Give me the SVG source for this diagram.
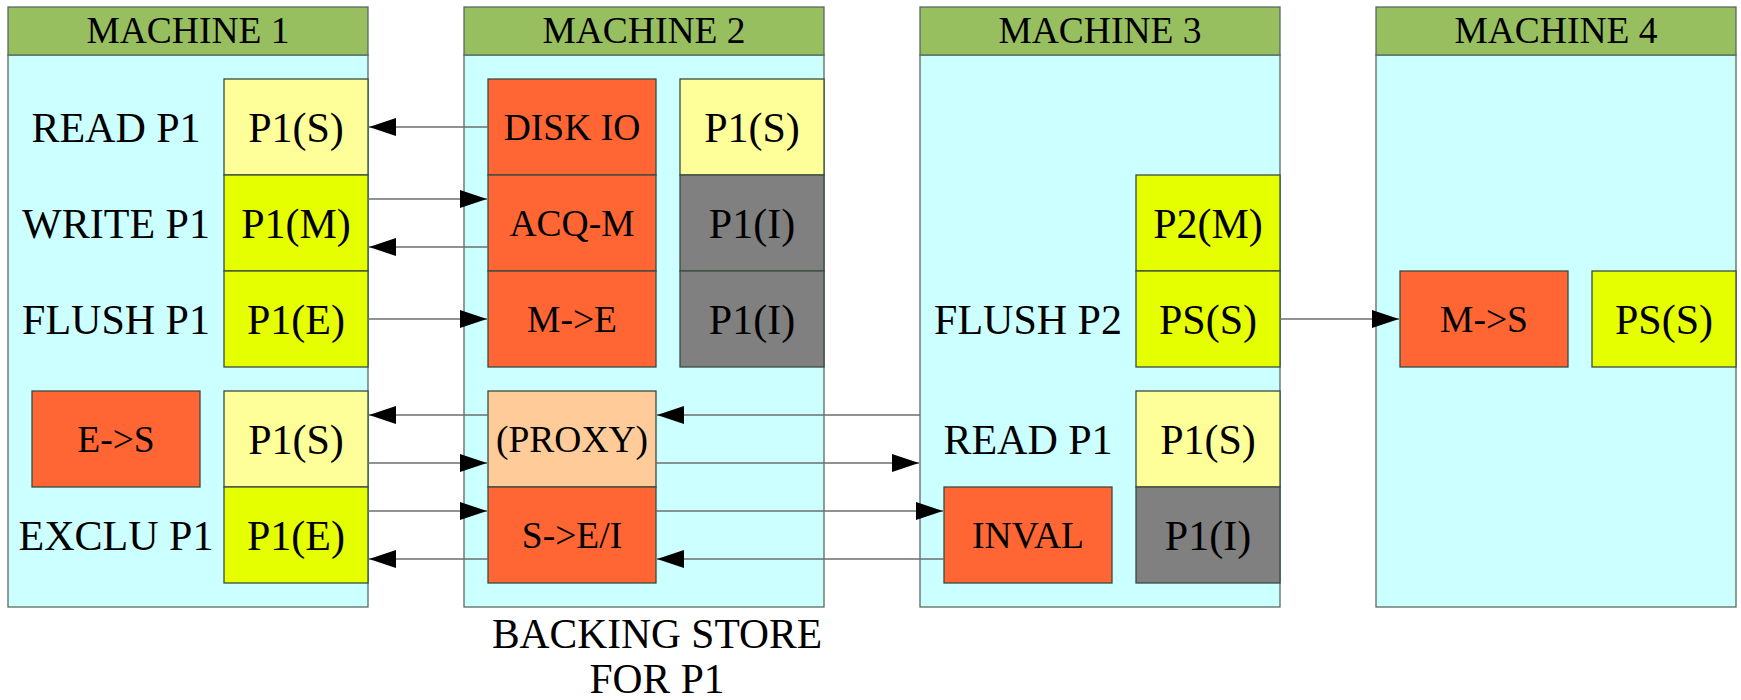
<svg xmlns="http://www.w3.org/2000/svg" width="1741" height="700" viewBox="0 0 1741 700">
<defs>
<marker id="ah" markerUnits="userSpaceOnUse" markerWidth="28" markerHeight="20" refX="27" refY="9" orient="auto">
<path d="M0,0 L27,9 L0,18 Z" fill="#000"/>
</marker>
<style>
.hdr{fill:#97BE5F;stroke:#5a6a60;stroke-width:1.3}
.body{fill:#CCFFFF;stroke:#5a6a60;stroke-width:1.3}
.cell{stroke:#3a4a40;stroke-width:1.3}
.ly{fill:#FFFF99}.yg{fill:#E5FF00}.or{fill:#FF6633}.gr{fill:#808080}.pe{fill:#FFCC99}
text{font-family:"Liberation Serif","Times New Roman",serif;fill:#000;text-anchor:middle}
.ht{font-size:37.5px}.lt{font-size:42px}.ct{font-size:42px}.ot{font-size:37.5px}.bt{font-size:41.5px}
.conn line{stroke:#6e6e6e;stroke-width:1.4;marker-end:url(#ah)}
</style>
</defs>
<rect width="1741" height="700" fill="#fff"/>

<g id="machine1">
<rect class="body" x="8" y="55" width="360" height="552"/>
<rect class="hdr" x="8" y="7" width="360" height="48"/>
<text class="ht" x="188" y="43">MACHINE 1</text>
<text class="lt" x="116" y="142">READ P1</text>
<text class="lt" x="116" y="238">WRITE P1</text>
<text class="lt" x="116" y="334">FLUSH P1</text>
<text class="lt" x="116" y="550">EXCLU P1</text>
</g>
<g id="m1-p1s-a"><rect class="cell ly" x="224" y="79" width="144" height="96"/><text class="ct" x="296" y="142">P1(S)</text></g>
<g id="m1-p1m"><rect class="cell yg" x="224" y="175" width="144" height="96"/><text class="ct" x="296" y="238">P1(M)</text></g>
<g id="m1-p1e-a"><rect class="cell yg" x="224" y="271" width="144" height="96"/><text class="ct" x="296" y="334">P1(E)</text></g>
<g id="m1-es"><rect class="cell or" x="32" y="391" width="168" height="96"/><text class="ot" x="116" y="452">E-&gt;S</text></g>
<g id="m1-p1s-b"><rect class="cell ly" x="224" y="391" width="144" height="96"/><text class="ct" x="296" y="454">P1(S)</text></g>
<g id="m1-p1e-b"><rect class="cell yg" x="224" y="487" width="144" height="96"/><text class="ct" x="296" y="550">P1(E)</text></g>

<g id="machine2">
<rect class="body" x="464" y="55" width="360" height="552"/>
<rect class="hdr" x="464" y="7" width="360" height="48"/>
<text class="ht" x="644" y="43">MACHINE 2</text>
<text class="bt" x="657" y="648">BACKING STORE</text>
<text class="bt" x="657" y="693">FOR P1</text>
</g>
<g id="m2-diskio"><rect class="cell or" x="488" y="79" width="168" height="96"/><text class="ot" x="572" y="140">DISK IO</text></g>
<g id="m2-acqm"><rect class="cell or" x="488" y="175" width="168" height="96"/><text class="ot" x="572" y="236">ACQ-M</text></g>
<g id="m2-me"><rect class="cell or" x="488" y="271" width="168" height="96"/><text class="ot" x="572" y="332">M-&gt;E</text></g>
<g id="m2-proxy"><rect class="cell pe" x="488" y="391" width="168" height="96"/><text class="ot" x="572" y="452">(PROXY)</text></g>
<g id="m2-sei"><rect class="cell or" x="488" y="487" width="168" height="96"/><text class="ot" x="572" y="548">S-&gt;E/I</text></g>
<g id="m2-p1s"><rect class="cell ly" x="680" y="79" width="144" height="96"/><text class="ct" x="752" y="142">P1(S)</text></g>
<g id="m2-p1i-a"><rect class="cell gr" x="680" y="175" width="144" height="96"/><text class="ct" x="752" y="238">P1(I)</text></g>
<g id="m2-p1i-b"><rect class="cell gr" x="680" y="271" width="144" height="96"/><text class="ct" x="752" y="334">P1(I)</text></g>

<g id="machine3">
<rect class="body" x="920" y="55" width="360" height="552"/>
<rect class="hdr" x="920" y="7" width="360" height="48"/>
<text class="ht" x="1100" y="43">MACHINE 3</text>
<text class="lt" x="1028" y="334">FLUSH P2</text>
<text class="lt" x="1028" y="454">READ P1</text>
</g>
<g id="m3-p2m"><rect class="cell yg" x="1136" y="175" width="144" height="96"/><text class="ct" x="1208" y="238">P2(M)</text></g>
<g id="m3-pss"><rect class="cell yg" x="1136" y="271" width="144" height="96"/><text class="ct" x="1208" y="334">PS(S)</text></g>
<g id="m3-p1s"><rect class="cell ly" x="1136" y="391" width="144" height="96"/><text class="ct" x="1208" y="454">P1(S)</text></g>
<g id="m3-p1i"><rect class="cell gr" x="1136" y="487" width="144" height="96"/><text class="ct" x="1208" y="550">P1(I)</text></g>
<g id="m3-inval"><rect class="cell or" x="944" y="487" width="168" height="96"/><text class="ot" x="1028" y="548">INVAL</text></g>

<g id="machine4">
<rect class="body" x="1376" y="55" width="360" height="552"/>
<rect class="hdr" x="1376" y="7" width="360" height="48"/>
<text class="ht" x="1556" y="43">MACHINE 4</text>
</g>
<g id="m4-ms"><rect class="cell or" x="1400" y="271" width="168" height="96"/><text class="ot" x="1484" y="332">M-&gt;S</text></g>
<g id="m4-pss"><rect class="cell yg" x="1592" y="271" width="144" height="96"/><text class="ct" x="1664" y="334">PS(S)</text></g>

<g id="connectors" class="conn">
<line x1="488" y1="127" x2="369" y2="127"/>
<line x1="368" y1="199" x2="487" y2="199"/>
<line x1="488" y1="247" x2="369" y2="247"/>
<line x1="368" y1="319" x2="487" y2="319"/>
<line x1="920" y1="415" x2="657" y2="415"/>
<line x1="488" y1="415" x2="369" y2="415"/>
<line x1="368" y1="463" x2="487" y2="463"/>
<line x1="656" y1="463" x2="919" y2="463"/>
<line x1="368" y1="511" x2="487" y2="511"/>
<line x1="656" y1="511" x2="943" y2="511"/>
<line x1="944" y1="559" x2="657" y2="559"/>
<line x1="488" y1="559" x2="369" y2="559"/>
<line x1="1280" y1="319" x2="1399" y2="319"/>
</g>
</svg>
